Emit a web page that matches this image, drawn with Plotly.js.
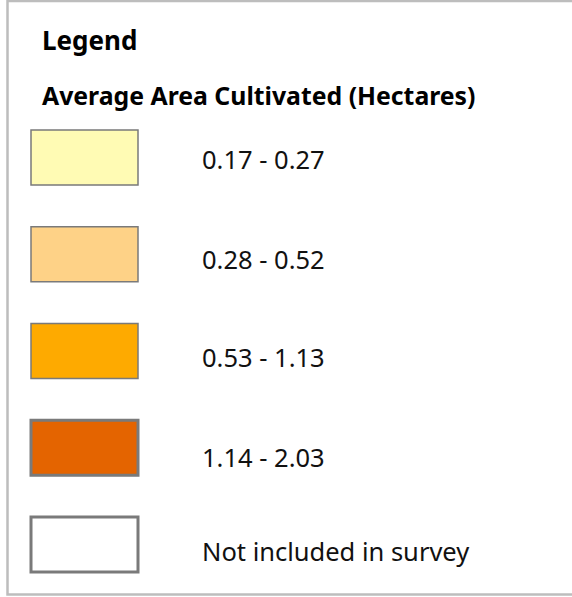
<!DOCTYPE html>
<html>
<head>
<meta charset="utf-8">
<script src="https://cdn.plot.ly/plotly-3.0.1.min.js"></script>
<style>html,body{margin:0;padding:0;background:#fff;}#chart{width:572px;height:597px;}</style>
</head>
<body>
<div id="chart"></div>
<script>
const legendTitle = "Legend";
const legendSubtitle = "Average Area Cultivated (Hectares)";
const classLabels = ["0.17 - 0.27", "0.28 - 0.52", "0.53 - 1.13", "1.14 - 2.03", "Not included in survey"];
const classColors = ["#FFFBB4", "#FED287", "#FEAA00", "#E46400", "#FFFFFF"];

// layout constants (positions / styles)
const FONT = "Noto Sans, DejaVu Sans, sans-serif";
const rowTop = 130, rowStep = 96.75, swH = 55, swX0 = 31, swX1 = 138;
const labelY = [159, 258.5, 357, 456.5, 550.5];
const borderWidths = [1.5, 1.5, 1.5, 3, 3];

const shapes = [];
const annotations = [];
classLabels.forEach((lab, i) => {
  const y0 = rowTop + i * rowStep;
  shapes.push({type: "rect", xref: "x", yref: "y", x0: swX0, x1: swX1, y0: y0, y1: y0 + swH,
    fillcolor: classColors[i], line: {color: "#7a7a7a", width: borderWidths[i]}});
  annotations.push({xref: "x", yref: "y", x: 200, y: labelY[i], text: lab, showarrow: false,
    xanchor: "left", yanchor: "middle", font: {family: FONT, size: 25.5, color: "#111"}});
});
// frame
shapes.push({type: "rect", xref: "x", yref: "y", x0: 7.5, x1: 575, y0: 1, y1: 594.5,
  fillcolor: "rgba(0,0,0,0)", line: {color: "#bdbdbd", width: 2.5}});

annotations.push({xref: "x", yref: "y", x: 40, y: 39.5, text: "<b>" + legendTitle + "</b>", showarrow: false,
  xanchor: "left", yanchor: "middle", font: {family: FONT, size: 26, color: "#000"}});
annotations.push({xref: "x", yref: "y", x: 40, y: 94.5, text: "<b>" + legendSubtitle + "</b>", showarrow: false,
  xanchor: "left", yanchor: "middle", font: {family: FONT, size: 24.8, color: "#000"}});

Plotly.newPlot("chart", [{x: [], y: [], type: "scatter", hoverinfo: "skip"}], {
  width: 572, height: 597,
  margin: {l: 0, r: 0, t: 0, b: 0},
  paper_bgcolor: "#fff", plot_bgcolor: "#fff",
  showlegend: false,
  xaxis: {range: [0, 572], visible: false, fixedrange: true},
  yaxis: {range: [597, 0], visible: false, fixedrange: true},
  shapes: shapes,
  annotations: annotations
}, {staticPlot: true, displayModeBar: false});
</script>
</body>
</html>
